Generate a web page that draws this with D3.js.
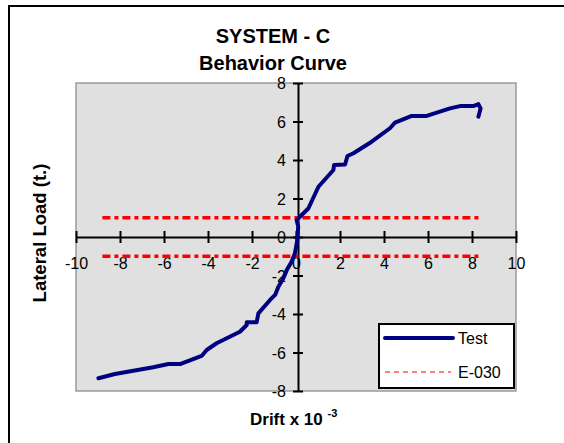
<!DOCTYPE html>
<html>
<head>
<meta charset="utf-8">
<script src="https://cdn.jsdelivr.net/npm/d3@7"></script>
<style>
  body { margin: 0; background: #fff; }
  text { font-family: "Liberation Sans", Arial, sans-serif; fill: #000; }
</style>
</head>
<body>
<div id="chart"></div>
<script>
const width = 564;
const height = 443;

// Test curve (drift x 10^-3, lateral load t.)
const testDrift = [-8.98, -8.23, -6.49, -5.80, -5.27, -4.29, -4.06, -3.61, -2.55, -2.24, -2.24, -1.79,
  -1.71, -1.18, -0.95, -0.80, -0.58, -0.42, -0.20, -0.05, 0.06, 0.10, 0.03, 0.18, 0.56, 1.02, 1.70,
  1.73, 2.23, 2.34, 2.61, 3.44, 4.27, 4.50, 5.26, 5.94, 7.00, 7.45, 8.06, 8.29, 8.39, 8.29];
const testLoad = [-7.34, -7.12, -6.77, -6.60, -6.60, -6.18, -5.87, -5.52, -4.92, -4.57, -4.43, -4.43,
  -3.97, -3.27, -3.01, -2.58, -2.15, -1.72, -1.28, -0.85, -0.16, 0.54, 0.88, 1.05, 1.48, 2.61, 3.48,
  3.74, 3.77, 4.21, 4.35, 4.95, 5.65, 5.94, 6.29, 6.29, 6.68, 6.80, 6.80, 6.90, 6.68, 6.25];

// E-030 limits
const e030Drift = [-8.8, 8.3];
const e030Upper = [1, 1];
const e030Lower = [-1, -1];

const xTicks = [-10, -8, -6, -4, -2, 0, 2, 4, 6, 8, 10];
const yTicks = [-8, -6, -4, -2, 0, 2, 4, 6, 8];

const svg = d3.select("#chart")
  .append("svg")
  .attr("width", width)
  .attr("height", height);

// outer frame (runs off the right and bottom edges)
svg.append("rect")
  .attr("x", 9).attr("y", 6)
  .attr("width", 620).attr("height", 500)
  .attr("fill", "#fff")
  .attr("stroke", "#000")
  .attr("stroke-width", 2);

const x = d3.scaleLinear().domain([-10, 10]).range([76, 516]);
const y = d3.scaleLinear().domain([-8, 8]).range([391, 83]);

// plot area
svg.append("rect")
  .attr("x", x(-10)).attr("y", y(8))
  .attr("width", x(10) - x(-10)).attr("height", y(-8) - y(8))
  .attr("fill", "#e0e0e0")
  .attr("stroke", "#9a9a9a")
  .attr("stroke-width", 1.5);

// titles
svg.append("text")
  .attr("x", 273).attr("y", 43)
  .attr("text-anchor", "middle")
  .style("font-size", "20px").style("font-weight", "bold")
  .text("SYSTEM - C");
svg.append("text")
  .attr("x", 273).attr("y", 70)
  .attr("text-anchor", "middle")
  .style("font-size", "20px").style("font-weight", "bold")
  .text("Behavior Curve");

// axes through the origin, ticks crossing the line
const xAxis = svg.append("g")
  .attr("transform", `translate(0,${y(0)})`)
  .call(d3.axisBottom(x).tickValues(xTicks).tickSize(0).tickFormat(""));
xAxis.select(".domain").attr("stroke", "#000").attr("stroke-width", 2);
xAxis.selectAll(".tick line").remove();
xAxis.selectAll(".tick")
  .append("line")
  .attr("y1", -6).attr("y2", 6)
  .attr("stroke", "#000").attr("stroke-width", 2);
xAxis.selectAll(".tick")
  .append("text")
  .attr("y", 32)
  .attr("text-anchor", "middle")
  .style("font-size", "16px")
  .text(d => d);

const yAxis = svg.append("g")
  .attr("transform", `translate(${x(0) + 2},0)`)
  .call(d3.axisLeft(y).tickValues(yTicks).tickSize(0).tickFormat(""));
yAxis.select(".domain").attr("stroke", "#000").attr("stroke-width", 2);
yAxis.selectAll(".tick line").remove();
yAxis.selectAll(".tick")
  .append("line")
  .attr("x1", -5).attr("x2", 5)
  .attr("stroke", "#000").attr("stroke-width", 2);
yAxis.selectAll(".tick")
  .append("text")
  .attr("x", -12).attr("dy", "0.36em")
  .attr("text-anchor", "end")
  .style("font-size", "16px")
  .text(d => d);

// E-030 limit lines
const limitLine = d3.line()
  .x((d, i) => x(e030Drift[i]))
  .y(d => y(d));

[e030Upper, e030Lower].forEach(vals => {
  svg.append("path")
    .datum(vals)
    .attr("d", limitLine)
    .attr("fill", "none")
    .attr("stroke", "#ff0000")
    .attr("stroke-width", 3.5)
    .attr("stroke-dasharray", "8,4,4,4");
});

// Test curve
const testLine = d3.line()
  .x((d, i) => x(testDrift[i]))
  .y(d => y(d))
  .curve(d3.curveLinear);

svg.append("path")
  .datum(testLoad)
  .attr("d", testLine)
  .attr("fill", "none")
  .attr("stroke", "#000080")
  .attr("stroke-width", 4)
  .attr("stroke-linejoin", "round")
  .attr("stroke-linecap", "round");

// axis titles
svg.append("text")
  .attr("transform", "translate(46,233) rotate(-90)")
  .attr("text-anchor", "middle")
  .style("font-size", "18.5px").style("font-weight", "bold")
  .text("Lateral Load (t.)");

const xLabel = svg.append("text")
  .attr("x", 250).attr("y", 425)
  .style("font-size", "17px").style("font-weight", "bold");
xLabel.append("tspan").text("Drift x 10 ");
xLabel.append("tspan")
  .attr("dy", -8)
  .style("font-size", "11px")
  .text("-3");

// legend
const legend = svg.append("g").attr("transform", "translate(379,324)");
legend.append("rect")
  .attr("width", 135).attr("height", 64)
  .attr("fill", "#fff")
  .attr("stroke", "#000")
  .attr("stroke-width", 2);
legend.append("line")
  .attr("x1", 6).attr("x2", 74).attr("y1", 14).attr("y2", 14)
  .attr("stroke", "#000080").attr("stroke-width", 4)
  .attr("stroke-linecap", "round");
legend.append("text")
  .attr("x", 79).attr("y", 20)
  .style("font-size", "16px")
  .text("Test");
legend.append("line")
  .attr("x1", 6).attr("x2", 72).attr("y1", 48).attr("y2", 48)
  .attr("stroke", "#ff0000").attr("stroke-width", 1)
  .attr("stroke-dasharray", "5,4");
legend.append("text")
  .attr("x", 79).attr("y", 54)
  .style("font-size", "16px")
  .text("E-030");
</script>
</body>
</html>
